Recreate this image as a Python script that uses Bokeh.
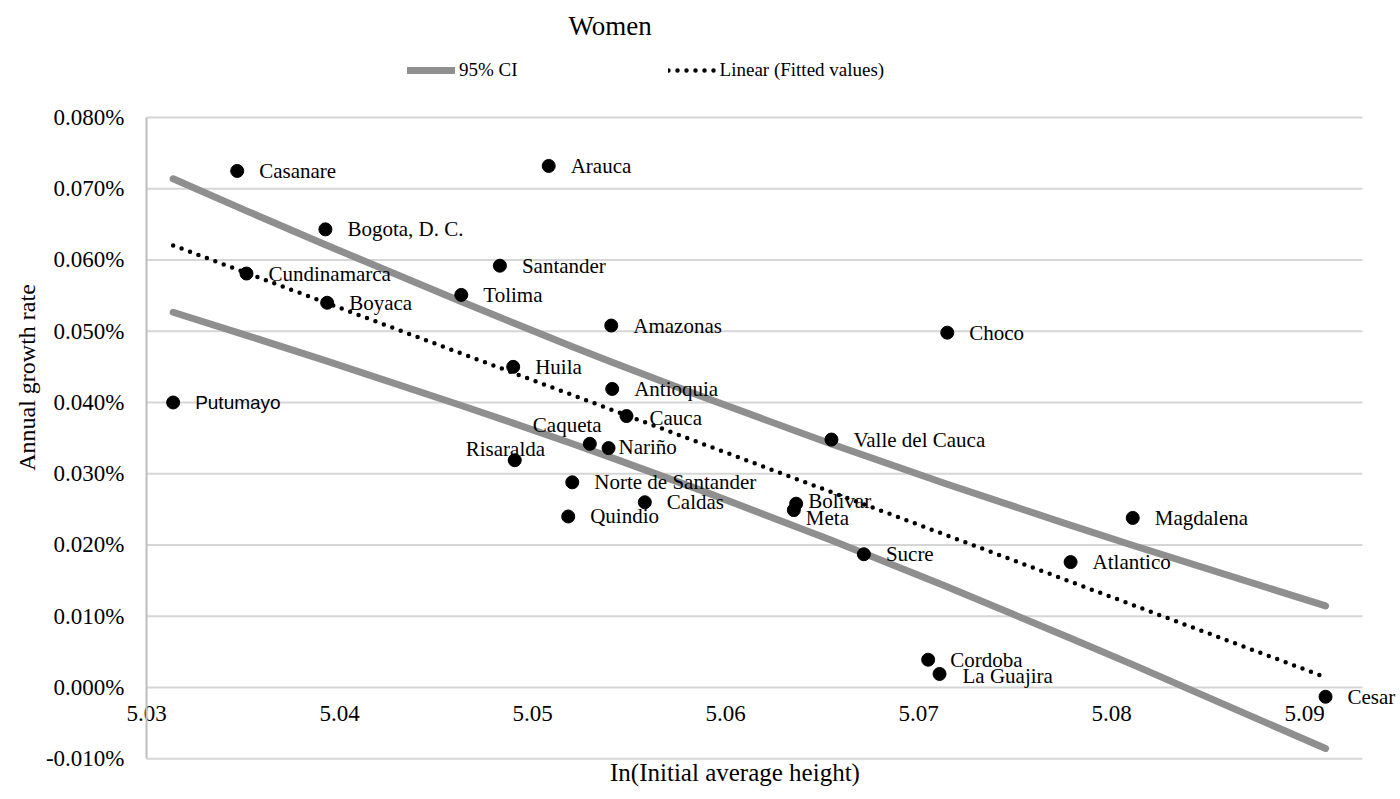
from bokeh.plotting import figure
from bokeh.models import (ColumnDataSource, FixedTicker, LinearAxis, Legend, LegendItem,
                          Range1d, PrintfTickFormatter, Label, LabelSet)
from bokeh.embed import file_html
from bokeh.resources import INLINE

# ---------------- data ----------------
departments = ["Casanare", "Arauca", "Bogota, D. C.", "Santander", "Cundinamarca", "Tolima",
               "Boyaca", "Amazonas", "Choco", "Huila", "Antioquia", "Putumayo", "Cauca",
               "Valle del Cauca", "Caqueta", "Nariño", "Risaralda", "Norte de Santander",
               "Caldas", "Bolivar", "Meta", "Quindio", "Magdalena", "Sucre", "Atlantico",
               "Cordoba", "La Guajira", "Cesar"]
ln_initial_height = [5.03470, 5.05084, 5.03927, 5.04831, 5.03518, 5.04631,
                     5.03936, 5.05408, 5.07149, 5.04900, 5.05413, 5.03138, 5.05487,
                     5.06549, 5.05297, 5.05394, 5.04908, 5.05206,
                     5.05582, 5.06366, 5.06354, 5.05185, 5.08110, 5.06717, 5.07788,
                     5.07050, 5.07109, 5.09109]
growth_rate_pct = [0.0725, 0.0732, 0.0643, 0.0592, 0.0581, 0.0551,
                   0.0540, 0.0508, 0.0498, 0.0450, 0.0419, 0.0400, 0.0381,
                   0.0348, 0.0342, 0.0336, 0.0319, 0.0288,
                   0.0260, 0.0258, 0.0249, 0.0240, 0.0238, 0.0187, 0.0176,
                   0.0039, 0.0019, -0.0013]

fit_x = [5.03138, 5.09109]
fit_y = [0.06204, 0.00144]

ci_x = [5.03138, 5.03518, 5.03927, 5.04627, 5.04896, 5.05207, 5.05409,
        5.05870, 5.06549, 5.07145, 5.07782, 5.08104, 5.09109]
ci_upper = [0.07140, 0.06690, 0.06214, 0.05420, 0.05122, 0.04784, 0.04569,
            0.04090, 0.03417, 0.02856, 0.02282, 0.02000, 0.01145]
ci_lower = [0.05267, 0.04942, 0.04588, 0.03962, 0.03714, 0.03421, 0.03226,
            0.02770, 0.02066, 0.01417, 0.00698, 0.00328, -0.00856]

x_ticks = [5.03, 5.04, 5.05, 5.06, 5.07, 5.08, 5.09]
y_ticks = [-0.010, 0.000, 0.010, 0.020, 0.030, 0.040, 0.050, 0.060, 0.070, 0.080]

title_text = "Women"
x_title = "In(Initial average height)"
y_title = "Annual growth rate"
legend_ci = "95% CI"
legend_fit = "Linear (Fitted values)"

# ---------------- layout / styles ----------------
W, H = 1398, 797
X_VIEW = (5.022435, 5.094870)      # visible x span of the canvas
Y_VIEW = (-0.015439, 0.096421)     # visible y span of the canvas
X_AXIS_END = 5.093                 # right end of the gridlines
SERIF = "Liberation Serif"
SANS = "Liberation Sans"
CI_COLOR = "#8f8f8f"
GRID_COLOR = "#d6d6d6"
label_offsets = {"Nariño": (10, 1), "Risaralda": (-49, 11), "Caqueta": (-57, 19),
                 "Bolivar": (12, 3), "Meta": (12, -8), "Cauca": (23, -2),
                 "La Guajira": (23, -2)}
default_offset = (22, 0)
label_fonts = {"Putumayo": SANS}
label_sizes = {"Putumayo": "19px"}

xo = [label_offsets.get(d, default_offset)[0] for d in departments]
yo = [label_offsets.get(d, default_offset)[1] for d in departments]
fonts = [label_fonts.get(d, SERIF) for d in departments]
sizes = [label_sizes.get(d, "21px") for d in departments]

src = ColumnDataSource(dict(x=ln_initial_height, y=growth_rate_pct, name=departments,
                            xo=xo, yo=yo, font=fonts, size=sizes))

p = figure(width=W, height=H, x_range=Range1d(*X_VIEW), y_range=Range1d(*Y_VIEW),
           output_backend="svg", toolbar_location=None,
           min_border_left=0, min_border_right=0, min_border_top=0, min_border_bottom=0)
p.outline_line_color = None
p.background_fill_color = "white"
p.border_fill_color = "white"
p.xgrid.visible = False
p.ygrid.visible = False

# horizontal gridlines at the y ticks
n = len(y_ticks)
p.segment(x0=[x_ticks[0]] * n, x1=[X_AXIS_END] * n, y0=y_ticks, y1=y_ticks,
          line_color=GRID_COLOR, line_width=2)

# x axis crossing at y = 0
xa = p.xaxis[0]
xa.ticker = FixedTicker(ticks=x_ticks)
xa.formatter = PrintfTickFormatter(format="%.2f")
xa.fixed_location = 0
xa.bounds = (5.03, 5.091)
xa.axis_line_color = None
xa.major_tick_line_color = None
xa.minor_tick_line_color = None
xa.major_tick_out = 0
xa.major_tick_in = 0
xa.major_label_standoff = 19
xa.major_label_text_font = SERIF
xa.major_label_text_font_size = "23px"
xa.major_label_text_color = "black"
xa.axis_label = x_title
xa.axis_label_standoff = 34
xa.axis_label_text_font = SERIF
xa.axis_label_text_font_size = "25px"
xa.axis_label_text_font_style = "normal"
xa.axis_label_text_color = "black"

# y axis at x = 5.03
ya = p.yaxis[0]
ya.ticker = FixedTicker(ticks=y_ticks)
ya.formatter = PrintfTickFormatter(format="%.3f%%")
ya.fixed_location = 5.03
ya.bounds = (y_ticks[0], y_ticks[-1])
ya.axis_line_color = "#bdbdbd"
ya.axis_line_width = 2
ya.major_tick_line_color = None
ya.minor_tick_line_color = None
ya.major_tick_out = 0
ya.major_tick_in = 0
ya.major_label_standoff = 22
ya.major_label_text_font = SERIF
ya.major_label_text_font_size = "23px"
ya.major_label_text_color = "black"

# y axis title (separate, tick-less axis)
ylab = LinearAxis(fixed_location=5.03, bounds=(0.0070, 0.0800),
                  ticker=FixedTicker(ticks=[]), axis_line_color=None,
                  major_tick_line_color=None, minor_tick_line_color=None,
                  major_tick_out=0, major_tick_in=0, axis_label=y_title,
                  axis_label_standoff=107, axis_label_text_font=SERIF,
                  axis_label_text_font_size="24px", axis_label_text_font_style="normal",
                  axis_label_text_color="black")
p.add_layout(ylab, "left")

# CI lines
r_up = p.line(ci_x, ci_upper, line_color=CI_COLOR, line_width=7, line_cap="round",
              line_join="round")
r_lo = p.line(ci_x, ci_lower, line_color=CI_COLOR, line_width=7, line_cap="round",
              line_join="round")
# fitted line
r_fit = p.line(fit_x, fit_y, line_color="black", line_width=4.5, line_dash="0 9",
               line_cap="round")

# points
p.scatter("x", "y", source=src, size=13, color="black")

labels = LabelSet(x="x", y="y", text="name", source=src, x_offset="xo", y_offset="yo",
                  text_font={"field": "font"}, text_font_size={"field": "size"},
                  text_color="black", text_baseline="middle", text_align="left")
p.add_layout(labels)

# legend (top)
legend = Legend(items=[LegendItem(label=legend_ci, renderers=[r_up]),
                       LegendItem(label=legend_fit, renderers=[r_fit])],
                orientation="horizontal", location=(407, 716), padding=0, margin=0,
                spacing=150, glyph_width=48, glyph_height=20, label_height=20,
                label_standoff=4, label_text_font=SERIF, label_text_font_size="19px",
                label_text_color="black", border_line_color=None,
                background_fill_alpha=0)
p.add_layout(legend)

# title
p.add_layout(Label(x=568, y=772, x_units="screen", y_units="screen", text=title_text,
                   text_font=SERIF, text_font_size="27px", text_color="black",
                   text_baseline="alphabetic"))

open("out.html", "w").write(file_html(p, INLINE))
